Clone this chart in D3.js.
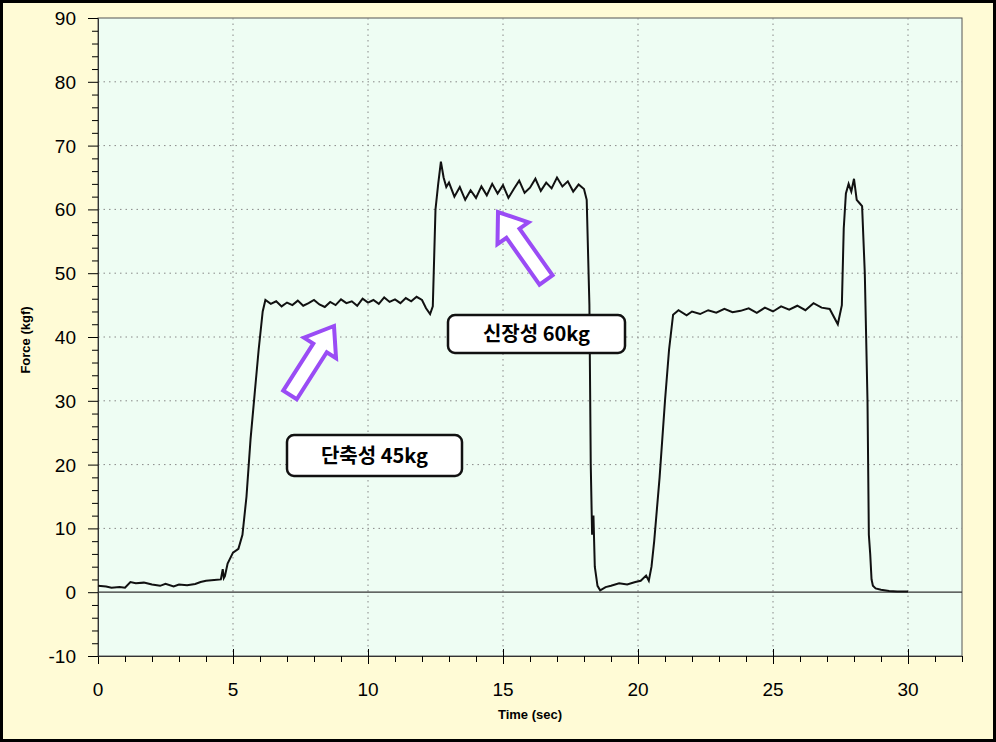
<!DOCTYPE html><html><head><meta charset="utf-8"><script src="https://cdn.jsdelivr.net/npm/d3@7"></script>
<style>body{margin:0;background:#000}svg{display:block}</style></head><body><svg id="c" width="996" height="742"></svg>
<script>
const xTicks=[0,5,10,15,20,25,30];
const yTicks=[-10,0,10,20,30,40,50,60,70,80,90];
const times=[0,0.3,0.5,0.8,1.0,1.2,1.4,1.7,2.0,2.3,2.5,2.8,3.0,3.3,3.6,3.8,4.0,4.3,4.55,4.62,4.66,4.7,4.8,5.0,5.2,5.35,5.5,5.65,5.8,5.95,6.1,6.2,6.4,6.6,6.8,7.0,7.2,7.4,7.6,7.8,8.0,8.2,8.4,8.6,8.8,9.0,9.2,9.4,9.6,9.8,10.0,10.2,10.4,10.6,10.8,11.0,11.2,11.4,11.6,11.8,12.0,12.15,12.3,12.4,12.5,12.6,12.7,12.8,12.9,13.0,13.2,13.4,13.6,13.8,14.0,14.2,14.4,14.6,14.8,15.0,15.2,15.4,15.6,15.8,16.0,16.2,16.4,16.6,16.8,17.0,17.2,17.4,17.6,17.8,18.0,18.1,18.2,18.25,18.3,18.35,18.4,18.5,18.6,18.8,19.0,19.3,19.6,19.9,20.1,20.3,20.4,20.5,20.6,20.8,21.0,21.15,21.3,21.5,21.8,22.0,22.3,22.6,22.9,23.2,23.5,23.8,24.1,24.4,24.7,25.0,25.3,25.6,25.9,26.2,26.5,26.8,27.1,27.4,27.55,27.62,27.7,27.8,27.9,28.0,28.1,28.2,28.3,28.4,28.5,28.55,28.6,28.65,28.7,28.8,29.0,29.3,29.6,30.0,30.5,31.3];
const force=[1.0,0.9,0.7,0.8,0.7,1.6,1.4,1.5,1.2,1.0,1.3,0.9,1.2,1.1,1.3,1.6,1.8,1.9,2.0,3.6,2.2,2.5,4.5,6.2,6.8,9.0,15,24,31,38,44,45.8,45.2,45.6,44.8,45.4,45.0,45.7,44.9,45.3,45.8,45.1,44.7,45.5,45.0,45.9,45.3,45.6,44.9,46.0,45.4,45.8,45.2,46.2,45.5,45.9,45.3,46.1,45.6,46.3,45.8,44.5,43.6,44.8,60,64,67.5,65,63.5,64.2,62,63.5,61.5,63,61.8,63.6,62.2,64,62.5,63.8,61.8,63.2,64.5,62.6,63.4,64.8,62.9,64.2,63.3,65,63.6,64.4,62.8,63.9,63.2,61.5,45,20,9,12,4,1.0,0.3,0.8,1.0,1.4,1.2,1.6,1.8,2.6,1.8,4.0,8,18,30,38,43.5,44.2,43.4,44.0,43.6,44.2,43.8,44.4,43.9,44.1,44.5,43.8,44.6,44.0,44.8,44.3,44.9,44.2,45.3,44.6,44.4,42.0,45,57,62.5,64,62.8,64.8,61.5,61,60.5,50,30,9,6,2,1.0,0.6,0.4,0.2,0.1,0.1];
const W=996,H=742,L=98,R=962,T=18,B=656;
const svg=d3.select("#c");
svg.append("rect").attr("x",1.5).attr("y",1.5).attr("width",W-3).attr("height",H-3).attr("fill","#fffbd6").attr("stroke","#000").attr("stroke-width",3);
const x=d3.scaleLinear().domain([0,32]).range([L,R]);
const y=d3.scaleLinear().domain([-10,90]).range([B,T]);
svg.append("rect").attr("x",L).attr("y",T).attr("width",R-L).attr("height",B-T).attr("fill","#eefdf3").attr("stroke","#555").attr("stroke-width",1);
const g=svg.append("g");
g.selectAll(".gx").data(xTicks.filter(d=>d>0)).join("line").attr("x1",d=>x(d)).attr("x2",d=>x(d)).attr("y1",T).attr("y2",B).attr("stroke","#888").attr("stroke-dasharray","1.5,4");
g.selectAll(".gy").data(yTicks.filter(d=>d>-10&&d!==0&&d<90)).join("line").attr("y1",d=>y(d)).attr("y2",d=>y(d)).attr("x1",L).attr("x2",R).attr("stroke","#888").attr("stroke-dasharray","1.5,4");
g.append("line").attr("x1",L).attr("x2",R).attr("y1",y(0)).attr("y2",y(0)).attr("stroke","#333").attr("stroke-width",1.2);
const xa=svg.append("g").attr("transform",`translate(0,${B})`).call(d3.axisBottom(x).tickValues(d3.range(0,33,1)).tickSize(6).tickFormat(""));
xa.selectAll(".tick line").filter(d=>d%5===0).attr("y1",-7).attr("y2",8);
svg.append("g").attr("transform",`translate(0,${B})`).selectAll("text").data(xTicks).join("text").attr("x",d=>x(d)).attr("y",40).attr("text-anchor","middle").attr("font-family","Liberation Sans, Arial").attr("font-size",19).text(d=>d);
const ya=svg.append("g").attr("transform",`translate(${L},0)`).call(d3.axisLeft(y).tickValues(d3.range(-10,91,2)).tickSize(6).tickFormat(""));
ya.selectAll(".tick line").filter(d=>d%10===0).attr("x2",-10);
svg.append("g").selectAll("text").data(yTicks).join("text").attr("x",L-22).attr("y",d=>y(d)+7).attr("text-anchor","end").attr("font-family","Liberation Sans, Arial").attr("font-size",19).text(d=>d);
svg.selectAll(".domain").attr("stroke","#333");
svg.append("text").attr("x",530).attr("y",719).attr("text-anchor","middle").attr("font-family","Liberation Sans, Arial").attr("font-weight","bold").attr("font-size",13).text("Time (sec)");
svg.append("text").attr("transform","translate(30,340) rotate(-90)").attr("text-anchor","middle").attr("font-family","Liberation Sans, Arial").attr("font-weight","bold").attr("font-size",13).text("Force (kgf)");
const pts=times.map((t,i)=>[t,force[i]]);
svg.append("path").datum(pts).attr("d",d3.line().x(d=>x(d[0])).y(d=>y(d[1]))).attr("fill","none").attr("stroke","#111").attr("stroke-width",2);
function arrow(x1,y1,x2,y2){const a=Math.atan2(y2-y1,x2-x1)*180/Math.PI,len=Math.hypot(x2-x1,y2-y1);
const s=8,hw=19,hl=26;
svg.append("path").attr("d",`M0,${-s}L${len-hl},${-s}L${len-hl},${-hw}L${len},0L${len-hl},${hw}L${len-hl},${s}L0,${s}Z`).attr("transform",`translate(${x1},${y1}) rotate(${a})`).attr("fill","#fff").attr("stroke","#9a4cf5").attr("stroke-width",4).attr("stroke-linejoin","miter");}
arrow(290,395,334,326);arrow(546,280,498,212);
function box(x0,y0,w,h,t){svg.append("rect").attr("x",x0).attr("y",y0).attr("width",w).attr("height",h).attr("rx",7).attr("fill","#fff").attr("stroke","#111").attr("stroke-width",2.5);
svg.append("text").attr("x",x0+w/2).attr("y",y0+h/2+7).attr("text-anchor","middle").attr("font-family","Noto Sans CJK KR").attr("font-weight","bold").attr("font-size",20).text(t);}
box(287,435,175,41,"단축성 45kg");box(448,315,177,38,"신장성 60kg");
</script></body></html>
